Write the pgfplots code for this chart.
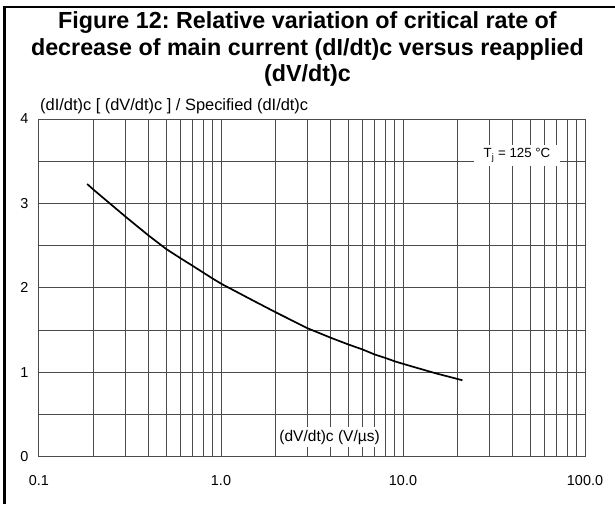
\documentclass[border=0pt]{standalone}
\usepackage{fontspec}
\setmainfont{Liberation Sans}
\usepackage{pgfplots}
\pgfplotsset{compat=1.18}
\definecolor{gridgray}{RGB}{75,75,75}
\frenchspacing
\begin{document}
\begin{tikzpicture}[x=1pt,y=1pt]
\useasboundingbox (0,0) rectangle (615,504);
% frame (only top and left edges show)
\draw[line width=2.4pt] (4.6,0) -- (4.6,497.1) -- (615,497.1);
\node[font=\fontsize{23.3}{26.5}\selectfont\bfseries, align=center] at (307.5,455)
  {Figure 12: Relative variation of critical rate of\\decrease of main current (dI/dt)c versus reapplied\\(dV/dt)c};
\node[font=\fontsize{16.4}{18}\selectfont, anchor=west, inner sep=0pt] at (40,398) {(dI/dt)c [ (dV/dt)c ] / Specified (dI/dt)c};
\begin{axis}[
    at={(39pt,47.3pt)}, anchor=south west,
    scale only axis, width=546pt, height=337.7pt,
    xmode=log, xmin=0.1, xmax=100, ymin=0, ymax=4,
    xtick={0.1,1,10,100}, xticklabels={0.1,1.0,10.0,100.0},
    minor xtick={0.2,0.3,0.4,0.5,0.6,0.7,0.8,0.9,2,3,4,5,6,7,8,9,20,30,40,50,60,70,80,90},
    ytick={0,1,2,3,4}, minor ytick={0.5,1.5,2.5,3.5},
    grid=both,
    major grid style={draw=gridgray, line width=1pt},
    minor grid style={draw=gridgray, line width=1pt},
    axis line style={draw=gridgray, line width=1pt},
    tick style={draw=none},
    /pgf/number format/assume math mode=true,
    ticklabel style={font=\fontsize{14.4}{16}\selectfont},
    xticklabel style={yshift=-15pt},
    yticklabel style={xshift=-7pt},
    clip=false,
]
\addplot[black, line width=1.7pt] coordinates {
    (0.184,3.23) (0.2,3.16) (0.3,2.84) (0.4,2.62) (0.5,2.46) (0.6,2.35)
    (0.7,2.26) (0.8,2.18) (0.9,2.11) (1.0,2.05) (1.5,1.85) (2,1.71)
    (3,1.52) (4,1.41) (5,1.33) (6,1.27) (7,1.21) (8,1.17) (9,1.13)
    (10,1.10) (15,0.99) (20,0.92) (21.2,0.905)
};
\node[fill=white, inner xsep=2pt, inner ysep=3pt, font=\fontsize{15.5}{17}\selectfont] at (axis cs:3.95,0.233) {(dV/dt)c (V/µs)};
\node[fill=white, inner xsep=10pt, inner ysep=4pt, font=\fontsize{13.3}{15}\selectfont] at (axis cs:42.3,3.57) {T\textsubscript{j} = 125 °C};
\end{axis}
\end{tikzpicture}
\end{document}
